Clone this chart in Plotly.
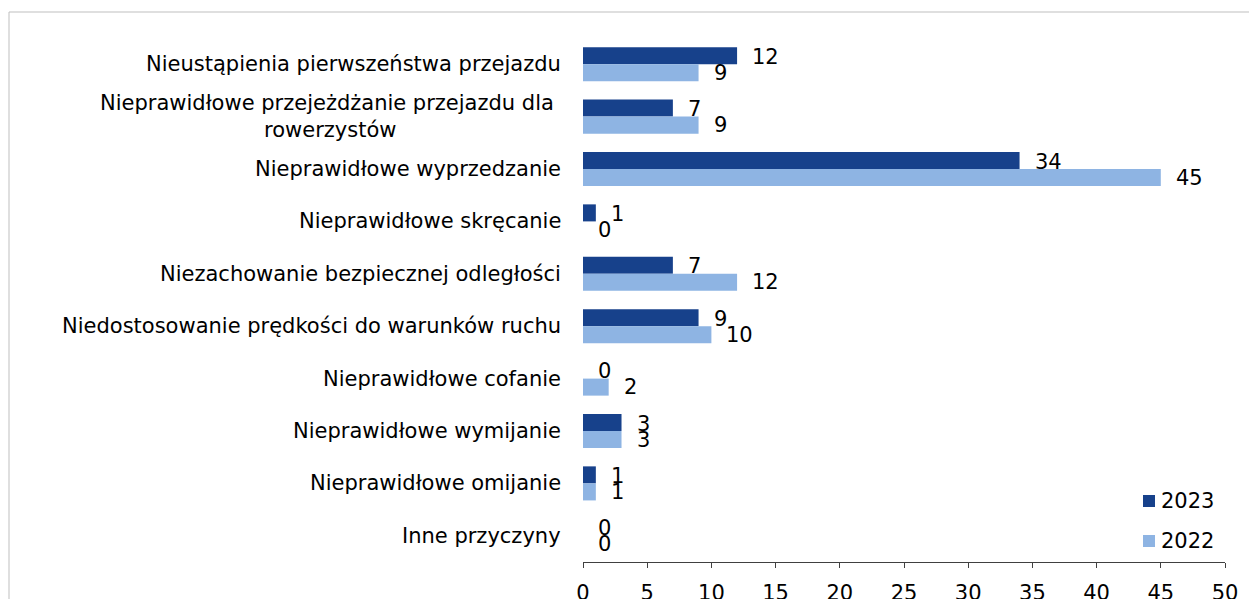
import plotly.graph_objects as go

categories = [
    "Nieustąpienia pierwszeństwa przejazdu",
    "Nieprawidłowe przejeżdżanie przejazdu dla <br>rowerzystów",
    "Nieprawidłowe wyprzedzanie",
    "Nieprawidłowe skręcanie",
    "Niezachowanie bezpiecznej odległości",
    "Niedostosowanie prędkości do warunków ruchu",
    "Nieprawidłowe cofanie",
    "Nieprawidłowe wymijanie",
    "Nieprawidłowe omijanie",
    "Inne przyczyny",
]
values_2023 = [12, 7, 34, 1, 7, 9, 0, 3, 1, 0]
values_2022 = [9, 9, 45, 0, 12, 10, 2, 3, 1, 0]
series_names = ["2023", "2022"]
x_ticks = [0, 5, 10, 15, 20, 25, 30, 35, 40, 45, 50]

FONT = "DejaVu Sans"
DARK = "#17418B"
LIGHT = "#8EB4E3"
OFF = 8  # page body margin
W, H = 1257 - OFF, 599 - OFF
ML, MR, MT, MB = 583 - OFF, 32, 38 - OFF, 37
PW = W - ML - MR
PH = H - MT - MB


def px_x(p):
    return (p - OFF - ML) / PW


def px_y(p):
    return (MT + PH - (p - OFF)) / PH


ids = list(range(len(categories)))
colors = [DARK, LIGHT]
series_vals = [values_2023, values_2022]

fig = go.Figure()
for name, vals, col in zip(series_names, series_vals, colors):
    fig.add_trace(go.Bar(
        y=ids, x=vals, orientation="h", name=name,
        marker=dict(color=col, line=dict(width=0)),
        showlegend=False,
    ))

annotations = []
for vals, ys in zip(series_vals, [7.5, -8.5]):
    for i, v in zip(ids, vals):
        annotations.append(dict(
            x=v, y=i, xref="x", yref="y", text=str(v), showarrow=False,
            xanchor="left", yanchor="middle", xshift=13, yshift=ys,
            font=dict(family=FONT, size=21, color="#000000"),
        ))
for i, c in zip(ids, categories):
    annotations.append(dict(
        x=0, y=i, xref="paper", yref="y", text=c, showarrow=False,
        xanchor="right", yanchor="middle", xshift=-20, align="center",
        font=dict(family=FONT, size=21, color="#000000"),
    ))

shapes = [dict(
    type="rect", xref="paper", yref="paper",
    x0=px_x(9), x1=px_x(1250), y0=px_y(640), y1=px_y(12),
    line=dict(color="#BFBFBF", width=1), fillcolor="rgba(0,0,0,0)", layer="below",
)]
# legend (manual, to match the reference spacing)
for name, col, cy in zip(series_names, colors, [501, 541]):
    shapes.append(dict(
        type="rect", xref="paper", yref="paper",
        x0=px_x(1143), x1=px_x(1155), y0=px_y(cy + 6), y1=px_y(cy - 6),
        line=dict(width=0), fillcolor=col,
    ))
    annotations.append(dict(
        x=px_x(1159), y=px_y(cy), xref="paper", yref="paper", text=name,
        showarrow=False, xanchor="left", yanchor="middle",
        font=dict(family=FONT, size=21, color="#000000"),
    ))

fig.update_layout(
    width=W, height=H,
    margin=dict(l=ML, r=MR, t=MT, b=MB, autoexpand=False),
    paper_bgcolor="white", plot_bgcolor="white",
    barmode="group", bargap=0.35, bargroupgap=0,
    font=dict(family=FONT, size=21, color="#000000"),
    annotations=annotations,
    shapes=shapes,
    showlegend=False,
    xaxis=dict(
        range=[0, 50], tickmode="array", tickvals=x_ticks,
        ticktext=[str(t) for t in x_ticks],
        showgrid=False, zeroline=False, automargin=False,
        showline=True, linecolor="#404040", linewidth=1,
        ticks="outside", ticklen=5, tickcolor="#404040",
        tickfont=dict(family=FONT, size=21, color="#000000"),
        ticklabelstandoff=7,
    ),
    yaxis=dict(
        range=[len(categories) - 0.5, -0.5], automargin=False,
        showticklabels=False, showgrid=False, zeroline=False,
        showline=False, ticks="",
    ),
)

fig.write_html("out.html")
